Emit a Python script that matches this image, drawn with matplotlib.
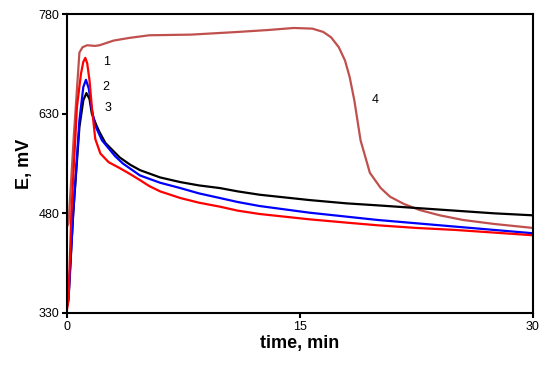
import matplotlib
matplotlib.use("Agg")
import matplotlib.pyplot as plt

plt.rcParams['font.family'] = ['Liberation Sans', 'DejaVu Sans']

# curve 1 (red)
t1 = [0, 0.1, 0.28, 0.64, 0.9, 1.05, 1.18, 1.3, 1.45, 1.6, 1.82, 2.15, 2.68, 3.4, 4.0, 4.7, 5.3, 6, 7.3, 8.5, 9.85, 11, 12.4, 14, 15.6, 18, 20, 22.5, 25, 27.5, 30]
e1 = [335, 350, 480, 640, 690, 708, 714, 706, 680, 640, 592, 570, 557, 548, 540, 530, 521, 513, 503, 496, 490, 484, 479, 475, 471, 466, 462, 458, 455, 451, 447]
# curve 2 (blue)
t2 = [0, 0.1, 0.4, 0.8, 1.05, 1.22, 1.4, 1.6, 1.82, 2.25, 3.1, 3.6, 4.7, 6, 7.3, 8.5, 9.85, 11, 12.4, 14, 15.6, 18, 20, 22.5, 25, 27.5, 30]
e2 = [340, 350, 480, 620, 670, 681, 668, 636, 612, 590, 566, 555, 537, 526, 518, 510, 503, 497, 491, 486, 481, 475, 470, 465, 460, 455, 450]
# curve 3 (black)
t3 = [0, 0.1, 0.4, 0.8, 1.05, 1.25, 1.45, 1.6, 1.9, 2.1, 2.47, 3.4, 4.08, 4.7, 6, 7.3, 8.5, 9.85, 11, 12.4, 14, 15.6, 18, 20, 22.5, 25, 27.5, 30]
e3 = [345, 355, 480, 610, 650, 661, 652, 630, 612, 602, 586, 564, 553, 545, 534, 527, 522, 518, 513, 508, 504, 500, 495, 492, 488, 484, 480, 477]
# curve 4 (dark red)
t4 = [0, 0.1, 0.45, 0.8, 1.0, 1.3, 1.8, 2.1, 3, 4, 5.3, 8, 11, 13, 14.6, 15.8, 16.5, 17, 17.5, 17.9, 18.2, 18.5, 18.9, 19.5, 20.2, 20.8, 21.7, 22.7, 24, 25.5, 27.5, 30]
e4 = [460, 465, 600, 722, 730, 733, 732, 733, 740, 744, 748, 749, 753, 756, 759, 758, 753, 745, 730, 710, 685, 650, 590, 541, 518, 505, 494, 485, 477, 470, 464, 458]

labels = ["1", "2", "3", "4"]
label_t = [2.3, 2.3, 2.4, 19.6]
label_e = [708, 670, 638, 650]

xticks = [0, 15, 30]
yticks = [330, 480, 630, 780]

fig = plt.figure(figsize=(5.5, 3.65), dpi=100)
ax = fig.add_axes([0.1218, 0.1425, 0.8472, 0.8191])

lw = 1.6
ax.plot(t4, e4, color='#C0504D', lw=lw)
ax.plot(t3, e3, color='black', lw=lw)
ax.plot(t2, e2, color='#0000FF', lw=lw)
ax.plot(t1, e1, color='#FF0000', lw=lw)

for s, x, y in zip(labels, label_t, label_e):
    ax.text(x, y, s, fontsize=9, ha='left', va='center')

ax.set_xlim(0, 30)
ax.set_ylim(330, 780)
ax.set_xticks(xticks)
ax.set_yticks(yticks)
ax.tick_params(direction='out', length=3.5, width=1.5, labelsize=9, pad=2)
for sp in ax.spines.values():
    sp.set_linewidth(1.5)

ax.set_xlabel('time, min', fontsize=13, fontweight='bold', labelpad=2)
ax.set_ylabel('E, mV', fontsize=13, fontweight='bold', labelpad=4)

fig.savefig('out.png', dpi=100)
